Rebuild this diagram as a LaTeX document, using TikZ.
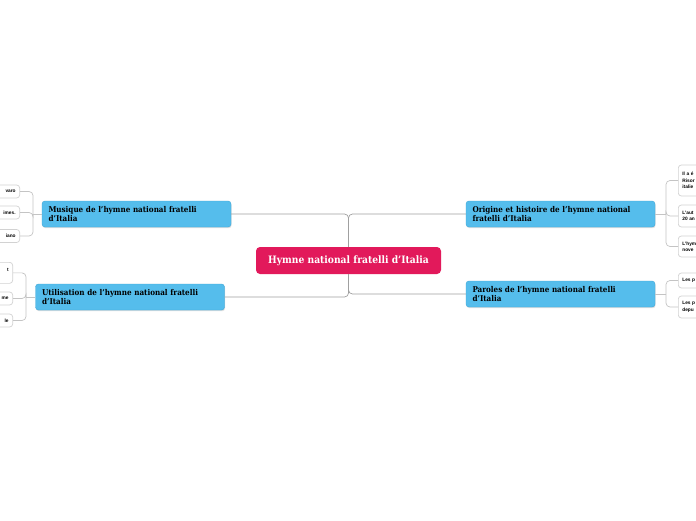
\documentclass[tikz,border=0pt]{standalone}
\usepackage{fontspec}
\setmainfont{DejaVu Serif Condensed}
\setsansfont{Liberation Sans}
\usetikzlibrary{shadows}
\definecolor{hub}{HTML}{E2195B}
\definecolor{topic}{HTML}{55BDEC}
\definecolor{topicedge}{HTML}{3FA6D6}
\definecolor{conncol}{HTML}{A0A0A0}
\definecolor{leafline}{HTML}{D2D2D2}
\definecolor{leafconn}{HTML}{C4C4C4}
\begin{document}
\begin{tikzpicture}[x=1pt,y=-1pt,
  hubbox/.style={fill=hub, rounded corners=4pt, text=white,
    font=\bfseries\fontsize{10.2}{12}\selectfont,
    minimum width=185pt, minimum height=27pt, inner sep=0pt},
  topicbox/.style={fill=topic, draw=topicedge, line width=0.4pt, rounded corners=3pt,
    font=\bfseries\fontsize{8}{8.6}\selectfont, text width=176pt,
    minimum width=189pt, minimum height=26pt, align=left,
    inner xsep=6.5pt, inner ysep=0pt,
    drop shadow={opacity=0.25, shadow xshift=0.6pt, shadow yshift=-1.2pt}},
  leafbox/.style={draw=leafline, fill=white, line width=0.7pt, rounded corners=3pt,
    font=\sffamily\bfseries\fontsize{4.8}{6.4}\selectfont, inner xsep=4pt, inner ysep=0pt},
  leftleaf/.style={leafbox, anchor=east, text width=60pt, align=right},
  rightleaf/.style={leafbox, anchor=west, text width=60pt, align=left},
  conn/.style={draw=conncol, line width=0.7pt, rounded corners=4pt},
  lconn/.style={draw=leafconn, line width=0.7pt, rounded corners=4pt}
]
\useasboundingbox (0,0) rectangle (696,520);
\fill[white] (0,0) rectangle (696,520);

% hub
\node[hubbox] (hub) at (348.5,260.5) {Hymne national fratelli d'Italia};

% topics
\node[topicbox] (mus) at (136.5,214) {Musique de l'hymne national fratelli\\d'Italia};
\node[topicbox] (uti) at (130,297) {Utilisation de l'hymne national fratelli\\d'Italia};
\node[topicbox] (ori) at (560.5,214) {Origine et histoire de l'hymne national\\fratelli d'Italia};
\node[topicbox] (par) at (560.5,294) {Paroles de l'hymne national fratelli\\d'Italia};

% hub connectors
\draw[conn] (hub.north) |- (mus.east);
\draw[conn] (hub.north) |- (ori.west);
\draw[conn] (hub.south) |- (uti.east);
\draw[conn] (hub.south) |- (par.west);

% left leaves (musique)
\node[leftleaf, minimum height=13pt] (m1) at (20,191.5) {varo};
\node[leftleaf, minimum height=13pt] (m2) at (20,212.5) {imes.};
\node[leftleaf, minimum height=13pt] (m3) at (20,236) {iano};
\coordinate (mb) at (33,214);
\draw[lconn] (mus.west) -- (mb);
\draw[lconn] (mb) |- (m1.east);
\draw[lconn] (mb) |- (m2.east);
\draw[lconn] (mb) |- (m3.east);

% left leaves (utilisation)
\node[leftleaf, minimum height=21pt, anchor=north east] (u1) at (13,262) {t\\\mbox{}};
\node[leftleaf, minimum height=13pt] (u2) at (13,298.5) {me};
\node[leftleaf, minimum height=13pt] (u3) at (13,320.5) {le};
\coordinate (ub) at (26,297);
\draw[lconn] (uti.west) -- (ub);
\draw[lconn] (ub) |- (u1.east);
\draw[lconn] (ub) |- (u2.east);
\draw[lconn] (ub) |- (u3.east);

% right leaves (origine)
\node[rightleaf, minimum height=31pt] (o1) at (678,180.5) {Il a é\\Risor\\italie};
\node[rightleaf, minimum height=22pt] (o2) at (678,216) {L'aut\\20 an};
\node[rightleaf, minimum height=21pt] (o3) at (678,246.5) {L'hym\\nove};
\coordinate (ob) at (666,214);
\draw[lconn] (ori.east) -- (ob);
\draw[lconn] (ob) |- (o1.west);
\draw[lconn] (ob) |- (o2.west);
\draw[lconn] (ob) |- (o3.west);

% right leaves (paroles)
\node[rightleaf, minimum height=15pt] (p1) at (678,280.5) {Les p};
\node[rightleaf, minimum height=22pt] (p2) at (678,307) {Les p\\depu};
\coordinate (pb) at (666,294);
\draw[lconn] (par.east) -- (pb);
\draw[lconn] (pb) |- (p1.west);
\draw[lconn] (pb) |- (p2.west);
\end{tikzpicture}
\end{document}
